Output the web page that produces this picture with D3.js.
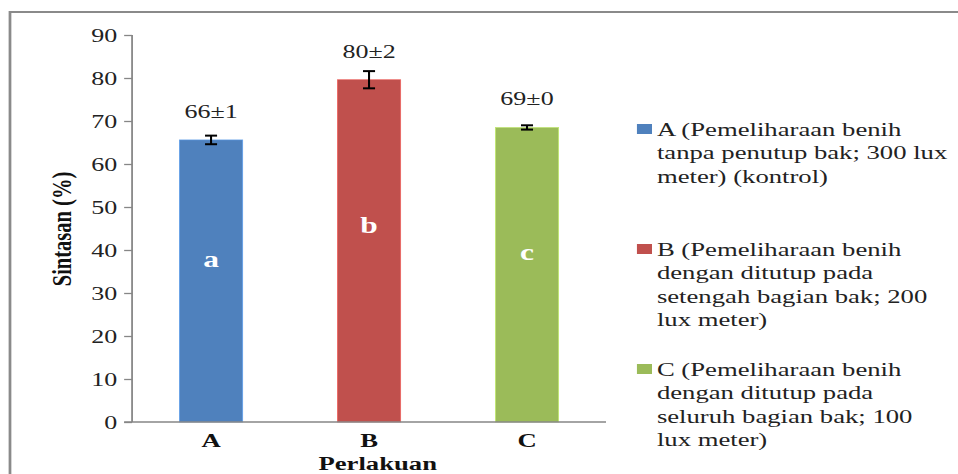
<!DOCTYPE html>
<html>
<head>
<meta charset="utf-8">
<script src="https://cdn.jsdelivr.net/npm/d3@7"></script>
<style>
    html, body { margin: 0; padding: 0; background: #fff; }
    svg { display: block; }
    text { font-family: "Liberation Serif", "Times New Roman", serif; }
</style>
</head>
<body>
<div class="chartRoot"></div>
<script>
    // data
    var categories = ["A", "B", "C"];
    var survival = [65.6, 79.6, 68.5];
    var errors = [1.0, 2.0, 0.5];
    var valueLabels = ["66\u00b11", "80\u00b12", "69\u00b10"];
    var groupLetters = ["a", "b", "c"];
    var yTicks = [0, 10, 20, 30, 40, 50, 60, 70, 80, 90];
    var legendLines = [
        ["A (Pemeliharaan benih", "tanpa penutup bak; 300 lux", "meter) (kontrol)"],
        ["B (Pemeliharaan benih", "dengan ditutup pada", "setengah bagian bak; 200", "lux meter)"],
        ["C (Pemeliharaan benih", "dengan ditutup pada", "seluruh bagian bak; 100", "lux meter)"]
    ];
    var colors = ["#4f81bd", "#c0504d", "#9bbb59"];

    // the original picture is stretched sideways, so draw in a narrower
    // coordinate space and let the viewBox stretch it out
    var w = 958, h = 474, vw = 700;

    var svg = d3.select("div.chartRoot").append("svg")
        .attr("width", w)
        .attr("height", h)
        .attr("viewBox", "0 0 " + vw + " " + h)
        .attr("preserveAspectRatio", "none");

    // frame (top and left edges only are visible)
    svg.append("path")
        .attr("d", "M7.3," + h + "V12H" + vw)
        .style("fill", "none")
        .style("stroke", "#8a8a8a")
        .style("stroke-width", 2);

    var x = d3.scaleBand()
        .domain(categories)
        .range([96.5, 442.8])
        .paddingInner(0.6)
        .paddingOuter(0.3);

    var y = d3.scaleLinear()
        .domain([0, 90])
        .range([422, 35]);

    var bars = categories.map(function (c, i) {
        return { cat: c, value: survival[i], err: errors[i], label: valueLabels[i], letter: groupLetters[i], color: colors[i] };
    });

    // y axis
    var yAxis = svg.append("g")
        .attr("transform", "translate(" + x.range()[0] + ",0)")
        .call(d3.axisLeft(y).tickValues(yTicks).tickSize(5.8).tickPadding(5));
    yAxis.select(".domain").attr("d", "M0," + y(90) + "V" + y(0));
    yAxis.selectAll("line, path").style("stroke", "#868686").style("stroke-width", 1.3);
    yAxis.selectAll("text")
        .style("font-size", "19px")
        .style("fill", "#222")
        .attr("dy", "0.33em");

    // bars
    svg.selectAll("rect.bar")
        .data(bars)
        .enter().append("rect")
        .attr("class", "bar")
        .attr("x", function (d) { return x(d.cat); })
        .attr("width", x.bandwidth())
        .attr("y", function (d) { return y(d.value); })
        .attr("height", function (d) { return y(0) - y(d.value); })
        .style("fill", function (d) { return d.color; })
        .style("stroke", function (d) { return d3.color(d.color).brighter(0.6); })
        .style("stroke-width", 0.6);

    // x axis
    var xAxis = svg.append("g")
        .attr("transform", "translate(0," + y(0) + ")")
        .call(d3.axisBottom(x).tickSize(0).tickPadding(18));
    xAxis.select(".domain").attr("d", "M" + (x.range()[0] - 5.8) + ",0H" + x.range()[1]);
    xAxis.selectAll("path").style("stroke", "#868686").style("stroke-width", 1.4);
    xAxis.selectAll("text")
        .style("font-size", "19.5px")
        .style("font-weight", "bold")
        .style("fill", "#111")
        .attr("dy", "0.35em");

    // error bars
    var err = svg.selectAll("g.err")
        .data(bars)
        .enter().append("g")
        .attr("class", "err")
        .style("stroke", "#000")
        .style("stroke-width", 1.5);
    err.append("line")
        .attr("x1", function (d) { return x(d.cat) + x.bandwidth() / 2; })
        .attr("x2", function (d) { return x(d.cat) + x.bandwidth() / 2; })
        .attr("y1", function (d) { return y(d.value + d.err); })
        .attr("y2", function (d) { return y(d.value - d.err); });
    [1, -1].forEach(function (s) {
        err.append("line")
            .attr("x1", function (d) { return x(d.cat) + x.bandwidth() / 2 - 4.4; })
            .attr("x2", function (d) { return x(d.cat) + x.bandwidth() / 2 + 4.4; })
            .attr("y1", function (d) { return y(d.value + s * d.err); })
            .attr("y2", function (d) { return y(d.value + s * d.err); })
            .style("stroke-width", 2);
    });

    // mean ± sd labels
    svg.selectAll("text.val")
        .data(bars)
        .enter().append("text")
        .attr("class", "val")
        .attr("x", function (d) { return x(d.cat) + x.bandwidth() / 2; })
        .attr("y", function (d) { return y(d.value) - 22; })
        .attr("text-anchor", "middle")
        .style("font-size", "19px")
        .style("fill", "#222")
        .text(function (d) { return d.label; });

    // letters inside the bars
    svg.selectAll("text.letter")
        .data(bars)
        .enter().append("text")
        .attr("class", "letter")
        .attr("x", function (d) { return x(d.cat) + x.bandwidth() / 2; })
        .attr("y", function (d) { return y(d.value * 0.575); })
        .attr("dy", "0.32em")
        .attr("text-anchor", "middle")
        .style("font-size", "23px")
        .style("font-weight", "bold")
        .style("fill", "#fff")
        .text(function (d) { return d.letter; });

    // axis titles
    svg.append("text")
        .attr("transform", "translate(45," + 229 + ") rotate(-90)")
        .attr("text-anchor", "middle")
        .attr("dy", "0.35em")
        .style("font-size", "20.5px")
        .style("font-weight", "bold")
        .style("fill", "#111")
        .text("Sintasan (%)");

    svg.append("text")
        .attr("x", 276)
        .attr("y", 470)
        .attr("text-anchor", "middle")
        .style("font-size", "19.5px")
        .style("font-weight", "bold")
        .style("fill", "#111")
        .text("Perlakuan");

    // legend
    var legend = svg.selectAll("g.legend")
        .data(bars)
        .enter().append("g")
        .attr("class", "legend")
        .attr("transform", function (d, i) { return "translate(465.4," + (136 + i * 120) + ")"; });
    legend.append("rect")
        .attr("x", 0)
        .attr("y", -12)
        .attr("width", 11)
        .attr("height", 10)
        .style("fill", function (d) { return d.color; });
    legend.append("text")
        .style("font-size", "19.5px")
        .style("fill", "#222")
        .selectAll("tspan")
        .data(function (d, i) { return legendLines[i]; })
        .enter().append("tspan")
        .attr("x", 14.6)
        .attr("y", function (d, j) { return j * 23.5; })
        .text(function (d) { return d; });
</script>
</body>
</html>
